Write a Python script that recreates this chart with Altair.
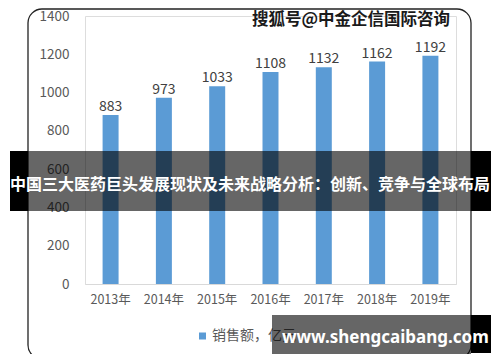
import altair as alt
import pandas as pd

years = ["2013年", "2014年", "2015年", "2016年", "2017年", "2018年", "2019年"]
sales = [883, 973, 1033, 1108, 1132, 1162, 1192]
y_ticks = [0, 200, 400, 600, 800, 1000, 1200, 1400]
legend_label = "销售额，亿元"
watermark = "搜狐号@中金企信国际咨询"
banner = "中国三大医药巨头发展现状及未来战略分析：创新、竞争与全球布局"
site = "www.shengcaibang.com"

FONT = "Noto Sans CJK SC"

df = pd.DataFrame({"year": years, "sales": sales})
one = pd.DataFrame({"a": [0]})

base = alt.Chart(df)

x_enc = alt.X("year:O", sort=years,
              scale=alt.Scale(paddingInner=0.7, paddingOuter=0.33),
              axis=alt.Axis(title=None, labelAngle=0, ticks=False, domainColor="#d9d9d9",
                            labelColor="#595959", labelFont=FONT, labelFontSize=12.5,
                            labelPadding=9))
y_enc = alt.Y("sales:Q", scale=alt.Scale(domain=[0, 1400], nice=False),
              axis=alt.Axis(title=None, values=y_ticks, tickCount=8, domain=False, ticks=False,
                            grid=False, format="d", labelOverlap=False, labelFlush=False,
                            labelColor="#595959", labelFont=FONT, labelFontSize=13.5,
                            labelPadding=16))

border = alt.Chart(one).mark_rect(filled=False, stroke="#222222", strokeWidth=1.3,
                                  cornerRadius=14).encode(
    x=alt.value(-57), x2=alt.value(386), y=alt.value(-7), y2=alt.value(343))

bars = base.mark_bar(color="#5b9bd5").encode(x=x_enc, y=y_enc)

labels = base.mark_text(baseline="alphabetic", dy=-4, font=FONT, fontSize=14,
                        color="#404040").encode(x=x_enc, y=y_enc, text="sales:Q")

leg_sym = alt.Chart(one).mark_square(size=49, color="#5b9bd5", opacity=1).encode(
    x=alt.value(117.5), y=alt.value(320))
leg_txt = alt.Chart(one).mark_text(align="left", baseline="middle", font=FONT, fontSize=14,
                                   color="#595959").encode(
    x=alt.value(127), y=alt.value(320), text=alt.value(legend_label))

wm = alt.Chart(one).mark_text(align="left", baseline="middle", font=FONT, fontSize=16.5,
                              fontWeight="bold", color="#1a1a1a").encode(
    x=alt.value(167), y=alt.value(3.5), text=alt.value(watermark))

band_grey = alt.Chart(one).mark_rect(color="black", opacity=0.6).encode(
    x=alt.value(-57), x2=alt.value(386), y=alt.value(135), y2=alt.value(195))
band_l = alt.Chart(one).mark_rect(color="black").encode(
    x=alt.value(-75), x2=alt.value(-57), y=alt.value(135), y2=alt.value(195))
band_r = alt.Chart(one).mark_rect(color="black").encode(
    x=alt.value(386), x2=alt.value(406), y=alt.value(135), y2=alt.value(195))
band_txt = alt.Chart(one).mark_text(align="left", baseline="middle", font=FONT, fontSize=16,
                                    fontWeight="bold", color="white").encode(
    x=alt.value(-75), y=alt.value(169), text=alt.value(banner))

box_grey = alt.Chart(one).mark_rect(color="black", opacity=0.6).encode(
    x=alt.value(187), x2=alt.value(386), y=alt.value(299), y2=alt.value(342))
box_r = alt.Chart(one).mark_rect(color="black").encode(
    x=alt.value(386), x2=alt.value(406), y=alt.value(299), y2=alt.value(337))
box_txt = alt.Chart(one).mark_text(align="left", baseline="alphabetic", font="Noto Sans",
                                   fontSize=17, fontWeight="bold", color="white").encode(
    x=alt.value(197), y=alt.value(327), text=alt.value(site))

chart = alt.layer(
    border, bars, labels, leg_sym, leg_txt, wm,
    band_grey, band_l, band_r, band_txt,
    box_grey, box_r, box_txt
).properties(
    width=371, height=268,
    autosize=alt.AutoSizeParams(type="none"),
    padding={"left": 77, "top": 8, "right": 36, "bottom": 70},
).configure_view(stroke=None).configure(background="white")

chart.save("out.html", embed_options={"renderer": "svg", "actions": False})
